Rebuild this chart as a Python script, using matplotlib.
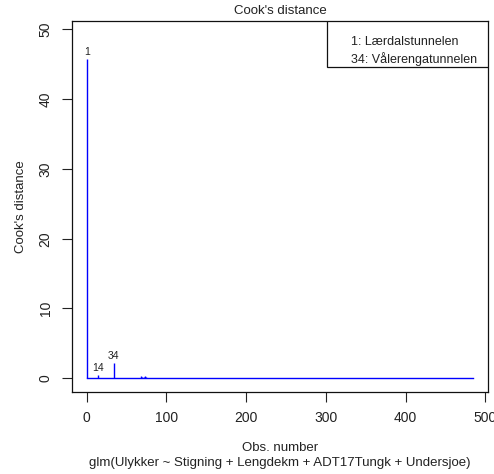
import numpy as np
import matplotlib.pyplot as plt
from matplotlib.patches import Rectangle

plt.rcParams['font.family'] = ['Liberation Sans', 'DejaVu Sans']

# Cook's distance per observation; everything not listed sits at ~0
n_obs = 484
influential_obs = [1, 14, 34, 68, 69, 72, 73, 75]
influential_cook = [45.8, 0.45, 2.15, 0.30, 0.25, 0.22, 0.28, 0.15]
labelled_obs = [1, 14, 34]
legend_lines = ['1: Lærdalstunnelen', '34: Vålerengatunnelen']

obs = np.arange(1, n_obs + 1)
cook = np.zeros(n_obs)
cook[np.array(influential_obs) - 1] = influential_cook

fig = plt.figure(figsize=(4.94, 4.74), dpi=100)
ax = fig.add_axes([72 / 494, 1 - 392 / 474, 416 / 494, 371 / 474])

# type="h" style spikes, plus the floor they stand on
ax.vlines(obs, 0, cook, color='#0000ff', linewidth=1.0)
ax.plot(obs, np.zeros_like(cook), color='#0000ff', linewidth=1.0)

# axis ranges as R would set them (4% padding, extra headroom for labels)
ytop = cook.max() * 1.075
ax.set_xlim(1 - 0.04 * (n_obs - 1), n_obs + 0.04 * (n_obs - 1))
ax.set_ylim(-0.04 * ytop, ytop * 1.04)

for i in labelled_obs:
    ax.annotate(str(i), (i, cook[i - 1]), xytext=(0, 5), textcoords='offset points',
                ha='center', va='center', fontsize=7.5, color='#222222')

ax.set_xticks([0, 100, 200, 300, 400, 500])
ax.set_yticks([0, 10, 20, 30, 40, 50])
ax.tick_params(direction='out', length=7, width=0.8, colors='#222222',
               labelsize=10, pad=7)
for lbl in ax.get_yticklabels():
    lbl.set_rotation(90)
    lbl.set_va('center')
for s in ax.spines.values():
    s.set_linewidth(0.9)
    s.set_color('#111111')

ax.set_title("Cook's distance", fontsize=9.5, color='#222222', pad=5)
ax.set_ylabel("Cook's distance", fontsize=9.5, color='#222222', labelpad=8)
ax.set_xlabel('Obs. number\nglm(Ulykker ~ Stigning + Lengdekm + ADT17Tungk + Undersjoe)',
              fontsize=9.5, color='#222222', labelpad=12, linespacing=1.35)

# legend box in the upper right corner
ax.add_patch(Rectangle((0.613, 0.876), 0.387, 0.124, transform=ax.transAxes,
                       facecolor='white', edgecolor='#111111', linewidth=0.9, zorder=3))
ax.text(0.671, 0.943, legend_lines[0], transform=ax.transAxes, fontsize=9,
        va='center', color='#222222', zorder=4)
ax.text(0.671, 0.898, legend_lines[1], transform=ax.transAxes, fontsize=9,
        va='center', color='#222222', zorder=4)

fig.savefig('out.png', dpi=100)
